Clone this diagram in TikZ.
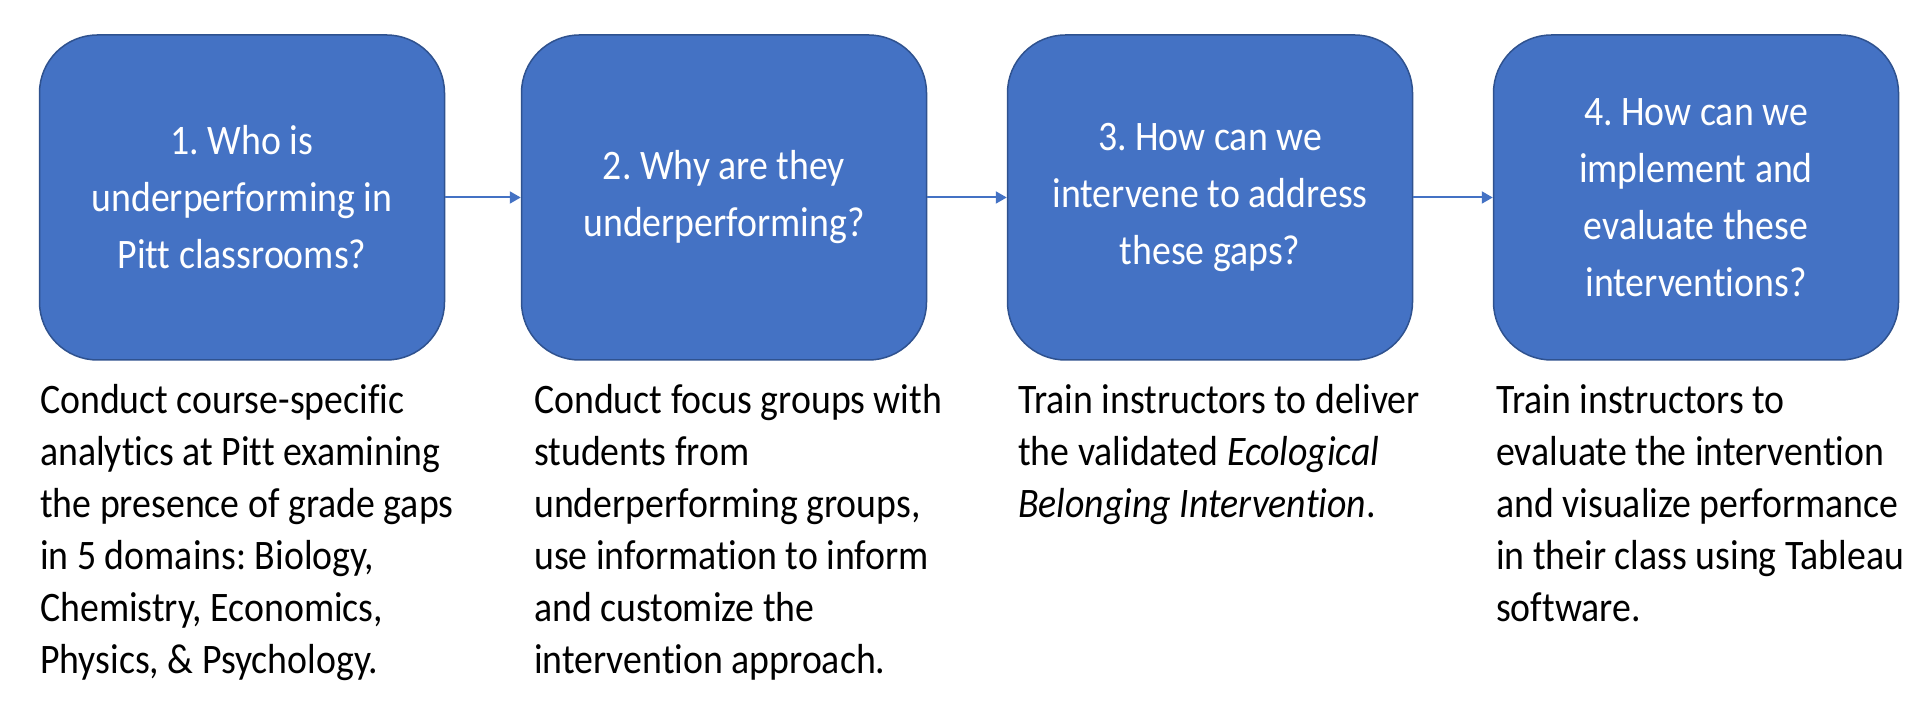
\documentclass[tikz,border=0pt]{standalone}
\usepackage{fontspec}
\setmainfont{Carlito}[Ligatures=NoCommon, FakeStretch=0.9]
\usetikzlibrary{arrows.meta}
\definecolor{boxblue}{HTML}{4472C4}
\definecolor{edgeblue}{HTML}{2F528F}
\frenchspacing
\tikzset{qb/.style = {rectangle, rounded corners=58pt, fill=boxblue, draw=edgeblue, line width=1.5pt,
                      minimum width=405pt, minimum height=325pt, inner sep=0pt,
                      align=center, text=white, font=\fontsize{42}{57}\selectfont},
         tx/.style = {anchor=north west, inner sep=0pt, align=left, font=\fontsize{42}{52}\selectfont},
         ar/.style = {->, line width=2pt, draw=boxblue}}

\begin{document}
\begin{tikzpicture}[x=1pt, y=1pt, >={Triangle[length=11pt, width=12pt]}]
    \useasboundingbox (0,0) rectangle (1919,719);
    \node[qb] (q1) at (242,521.5)  {1. Who is\\underperforming in\\Pitt classrooms?};
    \node[qb] (q2) at (724,521.5)  {2. Why are they\\underperforming?};
    \node[qb] (q3) at (1210,521.5) {3. How can we\\intervene to address\\these gaps?};
    \node[qb] (q4) at (1696,521.5) {4. How can we\\implement and\\evaluate these\\interventions?};
    \node[tx] (d1) at (40,335)   {Conduct course-specific\\analytics at Pitt examining\\the presence of grade gaps\\in 5 domains: Biology,\\Chemistry, Economics,\\Physics, \& Psychology.};
    \node[tx] (d2) at (534,335)  {Conduct focus groups with\\students from\\underperforming groups,\\use information to inform\\and customize the\\intervention approach.};
    \node[tx] (d3) at (1018,335) {Train instructors to deliver\\the validated \textit{Ecological}\\\textit{Belonging Intervention}.};
    \node[tx] (d4) at (1496,335) {Train instructors to\\evaluate the intervention\\and visualize performance\\in their class using Tableau\\software.};
    \draw[ar] (q1) -- (q2);
    \draw[ar] (q2) -- (q3);
    \draw[ar] (q3) -- (q4);
\end{tikzpicture}
\end{document}
